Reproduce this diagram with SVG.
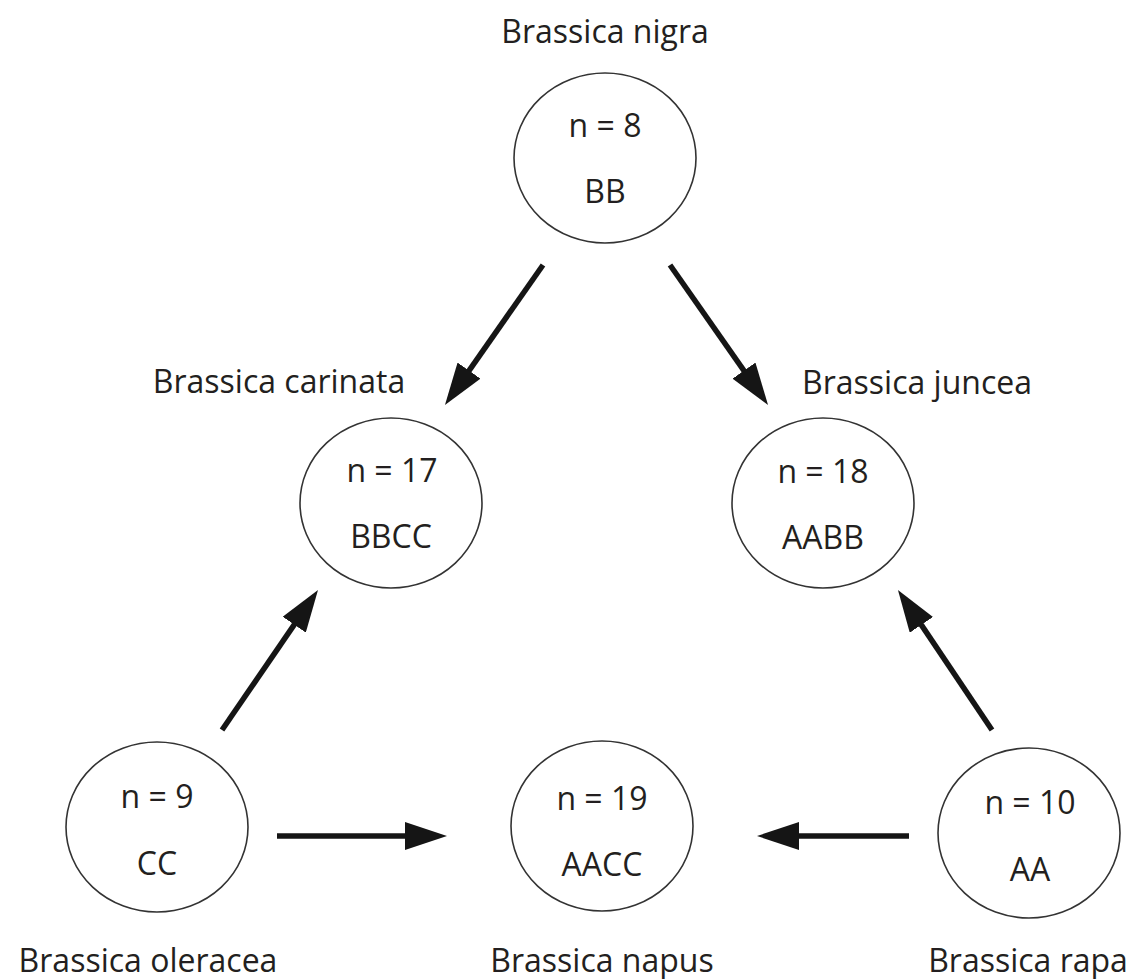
<svg xmlns="http://www.w3.org/2000/svg" width="1138" height="979" viewBox="0 0 1138 979">
<style>
text{font-family:"Open Sans","Noto Sans",sans-serif;font-size:32px;fill:#231f20;text-anchor:middle}
.node ellipse{fill:#fff;stroke:#333;stroke-width:1.6}
.edge{stroke:#151515;stroke-width:5.5;fill:none;marker-end:url(#ah)}
</style>
<defs>
<marker id="ah" markerUnits="userSpaceOnUse" markerWidth="42" markerHeight="28" refX="10" refY="14" orient="auto" viewBox="0 0 42 28">
<path d="M0,0 L42,14 L0,28 Z" fill="#151515"/>
</marker>
</defs>
<rect width="1138" height="979" fill="#fff"/>
<g id="connectors">
<line class="edge" x1="543" y1="265" x2="463.3" y2="378.8"/>
<line class="edge" x1="670" y1="265" x2="749.7" y2="378.8"/>
<line class="edge" x1="222" y1="730" x2="299.9" y2="616.4"/>
<line class="edge" x1="992" y1="730" x2="915.8" y2="616.6"/>
<line class="edge" x1="277" y1="836" x2="415" y2="836"/>
<line class="edge" x1="909" y1="836" x2="789" y2="836"/>
</g>
<g id="nigra" class="node">
<text x="605" y="43">Brassica nigra</text>
<ellipse cx="605" cy="158" rx="91" ry="85"/>
<text x="605" y="137">n = 8</text>
<text x="605" y="203">BB</text>
</g>
<g id="carinata" class="node">
<text x="279" y="393">Brassica carinata</text>
<ellipse cx="391" cy="503" rx="91" ry="85"/>
<text x="392" y="482">n = 17</text>
<text x="391" y="548">BBCC</text>
</g>
<g id="juncea" class="node">
<text x="917" y="394">Brassica juncea</text>
<ellipse cx="823" cy="503" rx="91" ry="85"/>
<text x="823" y="483">n = 18</text>
<text x="823" y="549">AABB</text>
</g>
<g id="oleracea" class="node">
<ellipse cx="157" cy="827" rx="91" ry="85"/>
<text x="157" y="808">n = 9</text>
<text x="157" y="875">CC</text>
<text x="148" y="972">Brassica oleracea</text>
</g>
<g id="napus" class="node">
<ellipse cx="602" cy="826" rx="91" ry="85"/>
<text x="602" y="810">n = 19</text>
<text x="602" y="876">AACC</text>
<text x="602" y="972">Brassica napus</text>
</g>
<g id="rapa" class="node">
<ellipse cx="1029" cy="833" rx="91" ry="85"/>
<text x="1030" y="814">n = 10</text>
<text x="1030" y="881">AA</text>
<text x="1028" y="972">Brassica rapa</text>
</g>
</svg>
